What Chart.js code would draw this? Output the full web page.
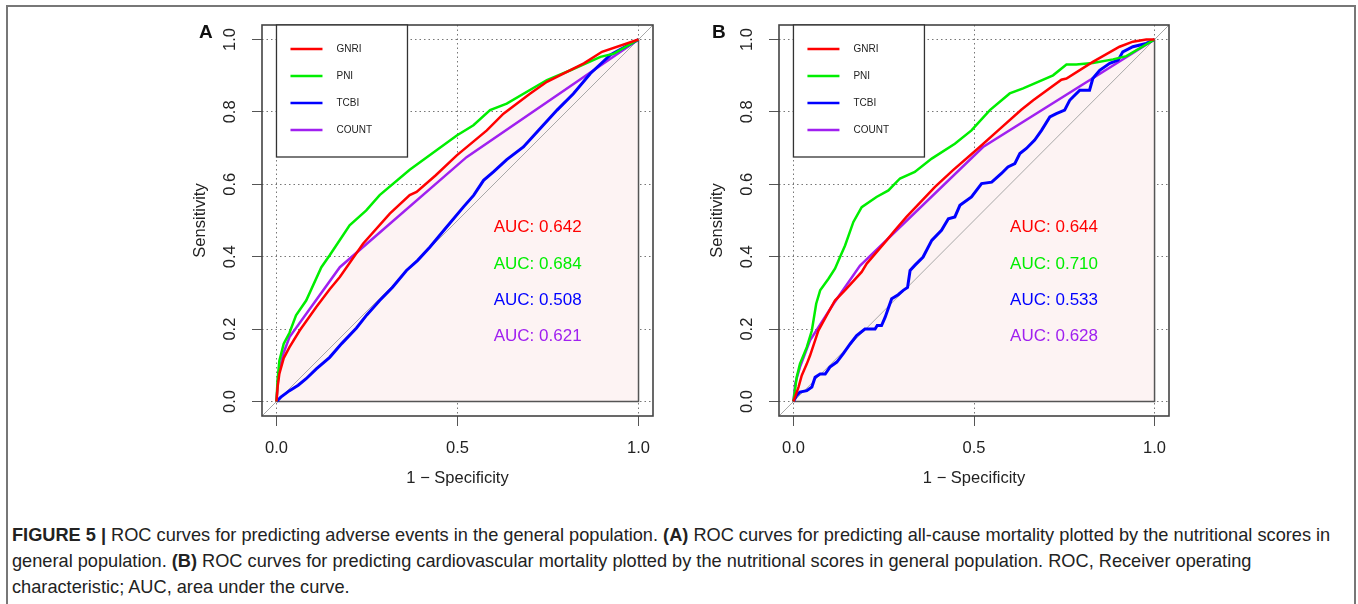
<!DOCTYPE html>
<html>
<head>
<meta charset="utf-8">
<script src="https://cdn.jsdelivr.net/npm/chart.js@4"></script>
<style>
  body { margin: 0; background: #fff; width: 1358px; height: 604px; overflow: hidden; position: relative; font-family: "Liberation Sans", Arial, sans-serif; }
  #frame { position: absolute; left: 6px; top: 5px; width: 1350px; height: 700px; border: 2px solid #777; box-sizing: border-box; }
  canvas { position: absolute; top: 0; }
  .letter { position: absolute; top: 21px; font: bold 19px "Liberation Sans", Arial, sans-serif; color: #111; }
  #caption { position: absolute; left: 12px; top: 522px; font-size: 18.2px; line-height: 26px; color: #222; white-space: nowrap; }
</style>
</head>
<body>
<div id="frame"></div>
<canvas id="chartA" width="490" height="500" style="left:180px"></canvas>
<canvas id="chartB" width="490" height="500" style="left:697px"></canvas>
<div class="letter" style="left:199px">A</div>
<div class="letter" style="left:712px">B</div>
<div id="caption"><b>FIGURE 5 |</b> ROC curves for predicting adverse events in the general population. <b>(A)</b> ROC curves for predicting all-cause mortality plotted by the nutritional scores in<br>general population. <b>(B)</b> ROC curves for predicting cardiovascular mortality plotted by the nutritional scores in general population. ROC, Receiver operating<br>characteristic; AUC, area under the curve.</div>
<script>
// series names and colours (R: red, green, blue, purple)
const seriesNames = ['GNRI', 'PNI', 'TCBI', 'COUNT'];
const seriesColors = ['#ff0000', '#00ee00', '#0000ff', '#a020f0'];
const xTicks = [0, 0.5, 1.0];
const yTicks = [0, 0.2, 0.4, 0.6, 0.8, 1.0];

// panel A: all-cause mortality, [1 - specificity, sensitivity]
const aGNRI = [[0,0],[0.003,0.04],[0.008,0.077],[0.02,0.12],[0.036,0.15],[0.064,0.196],[0.11,0.261],[0.147,0.31],[0.175,0.344],[0.239,0.436],[0.313,0.519],[0.368,0.57],[0.387,0.579],[0.44,0.625],[0.498,0.68],[0.581,0.749],[0.627,0.795],[0.7,0.85],[0.747,0.883],[0.849,0.934],[0.899,0.966],[1,1]];
const aPNI = [[0,0],[0.003,0.06],[0.008,0.113],[0.02,0.16],[0.036,0.19],[0.054,0.238],[0.082,0.279],[0.124,0.371],[0.147,0.404],[0.202,0.487],[0.248,0.528],[0.285,0.57],[0.368,0.64],[0.498,0.735],[0.544,0.763],[0.59,0.805],[0.636,0.823],[0.747,0.888],[0.812,0.915],[0.895,0.952],[0.932,0.961],[1,1]];
const aTCBI = [[0,0],[0.012,0.012],[0.036,0.03],[0.06,0.045],[0.082,0.063],[0.11,0.09],[0.147,0.122],[0.18,0.16],[0.221,0.203],[0.25,0.24],[0.285,0.279],[0.32,0.315],[0.359,0.362],[0.39,0.39],[0.424,0.427],[0.47,0.482],[0.516,0.537],[0.545,0.57],[0.572,0.611],[0.6,0.635],[0.636,0.668],[0.682,0.703],[0.724,0.749],[0.775,0.805],[0.82,0.85],[0.867,0.906],[0.923,0.958],[1,1]];
const aCOUNT = [[0,0],[0.005,0.07],[0.018,0.13],[0.036,0.178],[0.175,0.371],[0.525,0.675],[1,1]];
const aAUC = ['0.642', '0.684', '0.508', '0.621'];

// panel B: cardiovascular mortality
const bGNRI = [[0,0],[0.014,0.04],[0.023,0.072],[0.037,0.104],[0.046,0.127],[0.06,0.169],[0.069,0.196],[0.092,0.238],[0.115,0.279],[0.145,0.31],[0.189,0.358],[0.203,0.381],[0.258,0.445],[0.281,0.473],[0.313,0.51],[0.392,0.593],[0.442,0.639],[0.511,0.699],[0.567,0.749],[0.631,0.806],[0.664,0.832],[0.742,0.889],[0.756,0.892],[0.829,0.938],[0.903,0.98],[0.94,0.994],[0.977,1],[1,1]];
const bPNI = [[0,0],[0.009,0.067],[0.018,0.104],[0.037,0.15],[0.051,0.196],[0.063,0.27],[0.074,0.307],[0.097,0.339],[0.115,0.367],[0.129,0.399],[0.143,0.431],[0.166,0.496],[0.189,0.537],[0.23,0.565],[0.263,0.583],[0.295,0.616],[0.336,0.634],[0.383,0.671],[0.447,0.712],[0.493,0.749],[0.544,0.805],[0.599,0.851],[0.636,0.865],[0.719,0.901],[0.756,0.931],[0.783,0.931],[0.829,0.935],[0.885,0.945],[0.922,0.954],[1,1]];
const bTCBI = [[0,0],[0.009,0.017],[0.018,0.026],[0.037,0.03],[0.051,0.04],[0.06,0.067],[0.074,0.076],[0.088,0.076],[0.101,0.095],[0.12,0.109],[0.138,0.132],[0.157,0.159],[0.175,0.182],[0.198,0.2],[0.226,0.2],[0.232,0.21],[0.244,0.21],[0.254,0.233],[0.272,0.284],[0.29,0.295],[0.304,0.307],[0.316,0.315],[0.323,0.362],[0.336,0.376],[0.359,0.399],[0.383,0.445],[0.41,0.473],[0.429,0.505],[0.447,0.51],[0.461,0.542],[0.493,0.565],[0.521,0.602],[0.549,0.606],[0.576,0.63],[0.594,0.648],[0.613,0.657],[0.627,0.685],[0.645,0.699],[0.668,0.722],[0.687,0.749],[0.71,0.786],[0.728,0.795],[0.751,0.805],[0.765,0.832],[0.774,0.841],[0.793,0.86],[0.82,0.86],[0.829,0.892],[0.848,0.915],[0.876,0.934],[0.899,0.943],[0.912,0.966],[0.94,0.98],[0.977,0.989],[1,1]];
const bCOUNT = [[0,0],[0.005,0.05],[0.018,0.095],[0.046,0.169],[0.111,0.27],[0.184,0.375],[0.525,0.703],[1,1]];
const bAUC = ['0.644', '0.710', '0.533', '0.628'];

const axisFont = { family: '"Liberation Sans", Arial, sans-serif', size: 16.5 };
const toPts = arr => arr.map(p => ({ x: p[0], y: p[1] }));

// box round the plot region, like R's box()
const boxPlugin = {
  id: 'box',
  afterDatasetsDraw(chart) {
    const { ctx, chartArea: a } = chart;
    ctx.save();
    ctx.strokeStyle = '#444';
    ctx.lineWidth = 1.6;
    ctx.strokeRect(a.left, a.top, a.right - a.left, a.bottom - a.top);
    ctx.restore();
  }
};

// legend box at top-left and AUC labels
const labelPlugin = {
  id: 'rocLabels',
  afterDatasetsDraw(chart, args, opts) {
    const { ctx, chartArea: a, scales: { x, y } } = chart;
    ctx.save();
    const lx = x.getPixelForValue(0);
    ctx.fillStyle = '#fff';
    ctx.fillRect(lx, a.top, 131, 132);
    ctx.strokeStyle = '#333';
    ctx.lineWidth = 1.3;
    ctx.strokeRect(lx, a.top, 131, 132);
    ctx.font = '10px "Liberation Sans", Arial, sans-serif';
    ctx.textBaseline = 'middle';
    seriesNames.forEach((name, i) => {
      const ry = a.top + 24 + i * 27;
      ctx.strokeStyle = seriesColors[i];
      ctx.lineWidth = 2.5;
      ctx.beginPath();
      ctx.moveTo(lx + 14, ry);
      ctx.lineTo(lx + 46, ry);
      ctx.stroke();
      ctx.fillStyle = '#222';
      ctx.fillText(name, lx + 60, ry);
    });
    ctx.font = '17px "Liberation Sans", Arial, sans-serif';
    opts.values.forEach((v, i) => {
      ctx.fillStyle = seriesColors[i];
      ctx.fillText('AUC: ' + v, x.getPixelForValue(0.6), y.getPixelForValue(0.48 - i * 0.1));
    });
    ctx.restore();
  }
};

function makePanel(id, curves, aucs) {
  const datasets = curves.map((c, i) => ({
    label: seriesNames[i],
    data: toPts(c),
    showLine: true,
    borderColor: seriesColors[i],
    borderWidth: i === 2 ? 3 : 2.5,
    pointRadius: 0,
    tension: 0,
    fill: i === 0 ? 'origin' : false,
    backgroundColor: i === 0 ? '#fdf3f3' : 'transparent'
  }));
  datasets.push({
    label: 'chance',
    data: [{ x: -0.04, y: -0.04 }, { x: 1.04, y: 1.04 }],
    showLine: true, borderColor: '#a8a8a8', borderWidth: 1, pointRadius: 0, fill: false
  });
  datasets.push({
    label: 'polygon edge',
    data: [{ x: 0, y: 0 }, { x: 1, y: 0 }, { x: 1, y: 1 }],
    showLine: true, borderColor: '#555', borderWidth: 1.5, pointRadius: 0, fill: false
  });

  new Chart(document.getElementById(id), {
    type: 'scatter',
    data: { datasets },
    options: {
      responsive: false,
      animation: false,
      events: [],
      layout: { padding: { top: 25, right: id === 'chartA' ? 17 : 18, left: 0, bottom: 0 } },
      plugins: {
        legend: { display: false },
        tooltip: { enabled: false },
        filler: { drawTime: 'beforeDatasetsDraw' },
        rocLabels: { values: aucs }
      },
      scales: {
        x: {
          type: 'linear', min: -0.04, max: 1.04,
          afterBuildTicks: s => { s.ticks = xTicks.map(v => ({ value: v })); },
          afterFit: s => { s.height = 84; },
          ticks: { font: axisFont, color: '#222', padding: 13, callback: v => v.toFixed(1) },
          grid: { color: '#777', lineWidth: 1, tickLength: 10, tickColor: '#555', tickWidth: 1, tickBorderDash: [] },
          border: { display: false, dash: [1.5, 3] },
          title: { display: true, text: '1 − Specificity', font: axisFont, color: '#222', padding: { top: 0, bottom: 12 } }
        },
        y: {
          type: 'linear', min: -0.04, max: 1.04,
          afterBuildTicks: s => { s.ticks = yTicks.map(v => ({ value: v })); },
          afterFit: s => { s.width = 82; },
          ticks: { font: axisFont, color: '#222', padding: 10, minRotation: 90, maxRotation: 90, crossAlign: 'center', callback: v => v.toFixed(1) },
          grid: { color: '#777', lineWidth: 1, tickLength: 10, tickColor: '#555', tickWidth: 1, tickBorderDash: [] },
          border: { display: false, dash: [1.5, 3] },
          title: { display: true, text: 'Sensitivity', font: axisFont, color: '#222', padding: { top: 11, bottom: 0 } }
        }
      }
    },
    plugins: [boxPlugin, labelPlugin]
  });
}

makePanel('chartA', [aGNRI, aPNI, aTCBI, aCOUNT], aAUC);
makePanel('chartB', [bGNRI, bPNI, bTCBI, bCOUNT], bAUC);
</script>
</body>
</html>
